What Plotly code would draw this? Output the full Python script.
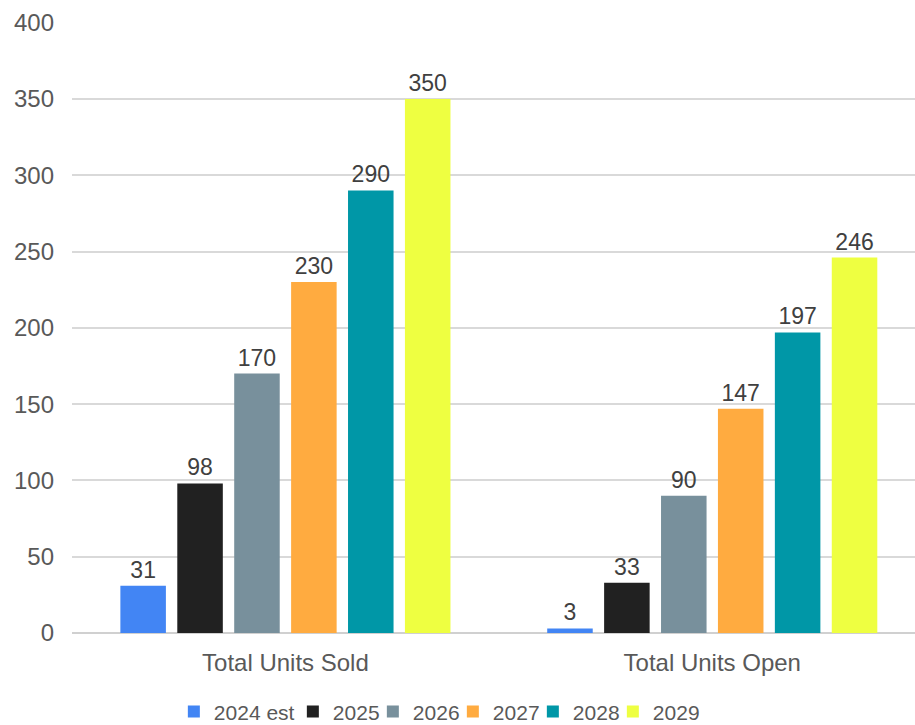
import plotly.graph_objects as go

categories = ["Total Units Sold", "Total Units Open"]
series_names = ["2024 est", "2025", "2026", "2027", "2028", "2029"]
series_values = [
    [31, 3],
    [98, 33],
    [170, 90],
    [230, 147],
    [290, 197],
    [350, 246],
]
series_colors = ["#4285F4", "#212121", "#78909C", "#FFAB40", "#0097A7", "#EEFF41"]
y_ticks = [0, 50, 100, 150, 200, 250, 300, 350, 400]

font_family = "Liberation Sans, Arial, sans-serif"

# legend slot widths: compact entries, with room for the longer first label
# and for the last label so it is not clipped by the legend box
legend_widths = [74, 35, 35, 35, 35, 55]

fig = go.Figure()
for name, vals, color, lw in zip(series_names, series_values, series_colors, legend_widths):
    fig.add_trace(go.Bar(
        name=name,
        x=categories,
        y=vals,
        marker=dict(color=color, line=dict(width=0)),
        text=[str(v) for v in vals],
        textposition="outside",
        cliponaxis=False,
        textfont=dict(family=font_family, size=23, color="#404040"),
        legendwidth=lw,
    ))

fig.update_layout(
    width=915,
    height=725,
    margin=dict(l=72, r=0, t=22, b=92, autoexpand=False),
    paper_bgcolor="white",
    plot_bgcolor="white",
    barmode="group",
    bargap=0.2,
    bargroupgap=0.2,
    font=dict(family=font_family, color="#595959"),
    showlegend=True,
    legend=dict(
        orientation="h",
        xref="container",
        x=0.19, xanchor="left",
        yref="container",
        y=0.018, yanchor="middle",
        font=dict(family=font_family, size=21, color="#595959"),
        itemwidth=30,
        traceorder="normal",
    ),
    xaxis=dict(
        type="category",
        range=[-0.5, 1.475],
        showgrid=False,
        showline=False,
        ticks="",
        ticklabelstandoff=13,
        tickfont=dict(family=font_family, size=24, color="#595959"),
    ),
    yaxis=dict(
        range=[0, 400.4],
        tickvals=y_ticks,
        showgrid=True,
        gridcolor="#D9D9D9",
        gridwidth=1.5,
        zeroline=True,
        zerolinecolor="#D0D0D0",
        zerolinewidth=2,
        ticks="",
        ticklabelstandoff=17,
        tickfont=dict(family=font_family, size=24, color="#595959"),
    ),
)

fig.write_html("out.html")
